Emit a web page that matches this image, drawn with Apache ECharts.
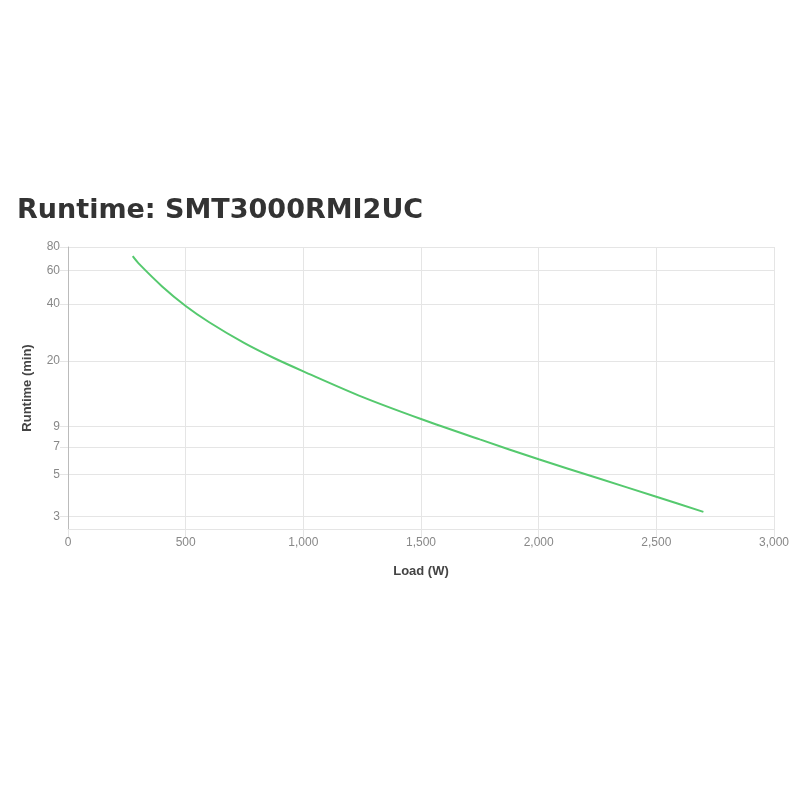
<!DOCTYPE html>
<html>
<head>
<meta charset="utf-8">
<script src="https://cdn.jsdelivr.net/npm/echarts@6/dist/echarts.min.js"></script>
<style>html,body{margin:0;padding:0;background:#fff;}#c{width:800px;height:800px;}</style>
</head>
<body>
<div id="c"></div>
<script>
const titleText = "Runtime: SMT3000RMI2UC";
const xName = "Load (W)";
const yName = "Runtime (min)";
const loadW = [275, 300, 400, 500, 600, 750, 875, 1000, 1250, 1500, 1750, 2000, 2250, 2500, 2700];
const runtimeMin = [71.5, 65.5, 49.5, 39, 32, 24.8, 20.7, 17.6, 12.9, 9.85, 7.68, 6.03, 4.8, 3.82, 3.18];
const yTicks = [3, 5, 7, 9, 20, 40, 60, 80];

const chart = echarts.init(document.getElementById('c'), null, {renderer: 'canvas'});
const gridColor = '#e5e5e5';
const labelColor = '#888';
const fontFamily = '"Liberation Sans", Arial, Helvetica, sans-serif';
chart.setOption({
  backgroundColor: '#fff',
  animation: false,
  title: {
    text: titleText,
    left: 17, top: 197, padding: 0,
    textStyle: {fontSize: 27, fontWeight: 'bold', color: '#333', fontFamily: '"DejaVu Sans", sans-serif'}
  },
  grid: {left: 68, right: 26, top: 247, bottom: 271, containLabel: false},
  xAxis: {
    type: 'value', min: 0, max: 3000, interval: 500,
    name: xName, nameLocation: 'middle', nameGap: 36,
    nameTextStyle: {fontSize: 13, fontWeight: 'bold', color: '#444', fontFamily: fontFamily},
    axisLine: {show: true, lineStyle: {color: gridColor, width: 1}},
    axisTick: {show: true, length: 8, lineStyle: {color: gridColor}},
    splitLine: {show: true, lineStyle: {color: gridColor, width: 1}},
    axisLabel: {
      color: labelColor, fontSize: 12, margin: 8, fontFamily: fontFamily,
      formatter: v => v.toLocaleString('en-US')
    }
  },
  yAxis: {
    type: 'log', logBase: 10, min: 2.58, max: 80,
    name: yName, nameLocation: 'middle', nameGap: 34,
    nameTextStyle: {fontSize: 13, fontWeight: 'bold', color: '#444', fontFamily: fontFamily},
    axisLine: {show: true, lineStyle: {color: '#bbb', width: 1}},
    axisTick: {show: true, length: 8, customValues: yTicks, lineStyle: {color: gridColor}},
    splitLine: {show: true, lineStyle: {color: gridColor, width: 1}},
    axisLabel: {
      customValues: yTicks, color: labelColor, fontSize: 12, margin: 8, fontFamily: fontFamily
    }
  },
  series: [{
    type: 'line',
    data: loadW.map((x, i) => [x, runtimeMin[i]]),
    smooth: 0.3,
    symbol: 'none',
    lineStyle: {color: '#55c96e', width: 2},
    itemStyle: {color: '#55c96e'}
  }]
});
</script>
</body>
</html>
